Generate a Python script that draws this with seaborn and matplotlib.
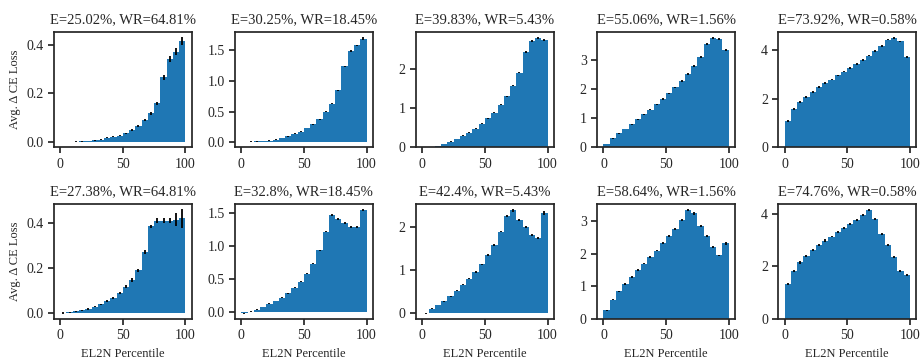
import numpy as np
import pandas as pd
import matplotlib
matplotlib.use("Agg")
import matplotlib.pyplot as plt
import seaborn as sns

# Percentile bins (bar centres, 20 bins of width 5)
percentile = [2.5, 7.5, 12.5, 17.5, 22.5, 27.5, 32.5, 37.5, 42.5, 47.5,
              52.5, 57.5, 62.5, 67.5, 72.5, 77.5, 82.5, 87.5, 92.5, 97.5]

titles_top = ["E=25.02%, WR=64.81%", "E=30.25%, WR=18.45%", "E=39.83%, WR=5.43%",
              "E=55.06%, WR=1.56%", "E=73.92%, WR=0.58%"]
titles_bottom = ["E=27.38%, WR=64.81%", "E=32.8%, WR=18.45%", "E=42.4%, WR=5.43%",
                 "E=58.64%, WR=1.56%", "E=74.76%, WR=0.58%"]

# Top row values / errors
t1 = [0.0005, 0.001, 0.002, 0.003, 0.005, 0.007, 0.010, 0.017, 0.022, 0.027,
      0.036, 0.050, 0.067, 0.089, 0.118, 0.159, 0.266, 0.341, 0.372, 0.415]
t1e = [0.001, 0.001, 0.001, 0.001, 0.001, 0.001, 0.002, 0.002, 0.002, 0.002,
       0.003, 0.003, 0.004, 0.004, 0.005, 0.007, 0.010, 0.013, 0.013, 0.016]
t2 = [0.004, 0.008, 0.012, 0.02, 0.025, 0.04, 0.07, 0.095, 0.14, 0.17,
      0.23, 0.29, 0.37, 0.50, 0.63, 0.85, 1.24, 1.49, 1.58, 1.69]
t2e = [0.006, 0.003, 0.003, 0.003, 0.003, 0.004, 0.004, 0.005, 0.005, 0.005,
       0.006, 0.006, 0.007, 0.008, 0.008, 0.010, 0.012, 0.015, 0.015, 0.025]
t3 = [0.005, 0.02, 0.04, 0.09, 0.15, 0.22, 0.30, 0.38, 0.48, 0.61,
      0.74, 0.89, 1.09, 1.30, 1.57, 1.90, 2.43, 2.71, 2.78, 2.73]
t3e = [0.003, 0.004, 0.005, 0.006, 0.006, 0.007, 0.008, 0.008, 0.009, 0.010,
       0.011, 0.012, 0.013, 0.014, 0.015, 0.017, 0.018, 0.020, 0.020, 0.022]
t4 = [0.12, 0.31, 0.48, 0.63, 0.80, 0.97, 1.13, 1.30, 1.48, 1.66,
      1.86, 2.06, 2.28, 2.52, 2.79, 3.10, 3.55, 3.74, 3.72, 3.34]
t4e = [0.008, 0.010, 0.012, 0.013, 0.014, 0.015, 0.016, 0.017, 0.018, 0.019,
       0.020, 0.021, 0.022, 0.023, 0.024, 0.025, 0.027, 0.028, 0.028, 0.028]
t5 = [1.08, 1.58, 1.86, 2.10, 2.30, 2.48, 2.65, 2.80, 2.97, 3.13,
      3.29, 3.44, 3.60, 3.79, 3.97, 4.18, 4.45, 4.50, 4.37, 3.72]
t5e = [0.05, 0.05, 0.045, 0.04, 0.04, 0.04, 0.04, 0.035, 0.035, 0.035,
       0.035, 0.035, 0.035, 0.035, 0.035, 0.035, 0.035, 0.035, 0.035, 0.035]

# Bottom row values / errors
b1 = [0.002, 0.005, 0.009, 0.013, 0.020, 0.030, 0.040, 0.055, 0.068, 0.090,
      0.118, 0.148, 0.190, 0.272, 0.385, 0.410, 0.410, 0.410, 0.415, 0.420]
b1e = [0.004, 0.002, 0.002, 0.002, 0.003, 0.003, 0.003, 0.004, 0.004, 0.005,
       0.006, 0.007, 0.007, 0.008, 0.007, 0.010, 0.011, 0.012, 0.030, 0.043]
b2 = [-0.015, 0.01, 0.04, 0.08, 0.13, 0.17, 0.22, 0.29, 0.37, 0.46,
      0.58, 0.73, 0.93, 1.21, 1.46, 1.40, 1.34, 1.28, 1.28, 1.54]
b2e = [0.006, 0.004, 0.004, 0.004, 0.005, 0.005, 0.005, 0.006, 0.006, 0.007,
       0.007, 0.008, 0.009, 0.010, 0.015, 0.013, 0.012, 0.012, 0.012, 0.016]
b3 = [-0.015, 0.09, 0.18, 0.27, 0.38, 0.51, 0.65, 0.79, 0.95, 1.13,
      1.35, 1.58, 1.89, 2.25, 2.39, 2.17, 2.00, 1.82, 1.75, 2.33]
b3e = [0.01, 0.01, 0.01, 0.012, 0.012, 0.013, 0.013, 0.014, 0.015, 0.015,
       0.016, 0.017, 0.018, 0.020, 0.035, 0.025, 0.025, 0.025, 0.025, 0.05]
b4 = [0.27, 0.60, 0.85, 1.08, 1.30, 1.50, 1.70, 1.90, 2.10, 2.33,
      2.54, 2.76, 3.04, 3.34, 3.24, 2.85, 2.55, 2.20, 1.95, 2.32]
b4e = [0.02, 0.025, 0.025, 0.025, 0.025, 0.025, 0.025, 0.025, 0.025, 0.025,
       0.025, 0.025, 0.03, 0.035, 0.035, 0.03, 0.03, 0.03, 0.03, 0.05]
b5 = [1.33, 1.83, 2.15, 2.40, 2.62, 2.81, 2.98, 3.13, 3.30, 3.47,
      3.62, 3.77, 3.95, 4.14, 3.80, 3.24, 2.82, 2.35, 1.83, 1.67]
b5e = [0.05, 0.05, 0.045, 0.04, 0.04, 0.04, 0.04, 0.035, 0.035, 0.035,
       0.035, 0.035, 0.035, 0.035, 0.035, 0.035, 0.035, 0.035, 0.035, 0.035]

top_vals = [t1, t2, t3, t4, t5]
top_errs = [t1e, t2e, t3e, t4e, t5e]
bot_vals = [b1, b2, b3, b4, b5]
bot_errs = [b1e, b2e, b3e, b4e, b5e]

sns.set_theme(style="ticks")
plt.rcParams["font.family"] = ["Liberation Serif", "DejaVu Serif"]
plt.rcParams.update({
    "axes.titlesize": 10.5,
    "axes.labelsize": 9,
    "xtick.labelsize": 10,
    "ytick.labelsize": 10,
    "axes.linewidth": 1.25,
    "xtick.major.width": 1.25,
    "ytick.major.width": 1.25,
    "xtick.major.size": 4,
    "ytick.major.size": 4,
    "axes.edgecolor": "#262626",
})

fig, axes = plt.subplots(2, 5, figsize=(9.21, 3.63), dpi=100)
fig.subplots_adjust(left=0.0586, right=0.9946, top=0.912, bottom=0.121,
                    hspace=0.485, wspace=0.315)

color = "#1f77b4"
for row, (vals_list, errs_list, titles) in enumerate(
        [(top_vals, top_errs, titles_top), (bot_vals, bot_errs, titles_bottom)]):
    for col in range(5):
        ax = axes[row, col]
        df = pd.DataFrame({"pct": percentile, "val": vals_list[col]})
        sns.barplot(data=df, x="pct", y="val", native_scale=True, width=1.0,
                    color=color, saturation=1, errorbar=None, linewidth=0,
                    ax=ax)
        ax.errorbar(percentile, vals_list[col], yerr=errs_list[col], fmt="none",
                    ecolor="black", elinewidth=1.3, capsize=0)
        ax.set_title(titles[col])
        ax.set_xticks([0, 50, 100])
        ax.margins(x=0.05, y=0.05)
        ax.autoscale_view()
        ax.set_xlabel("EL2N Percentile" if row == 1 else "")
        ax.set_ylabel("Avg. Δ CE Loss" if col == 0 else "")
        for side in ["top", "right"]:
            ax.spines[side].set_visible(True)

fig.savefig("out.png", dpi=100)
